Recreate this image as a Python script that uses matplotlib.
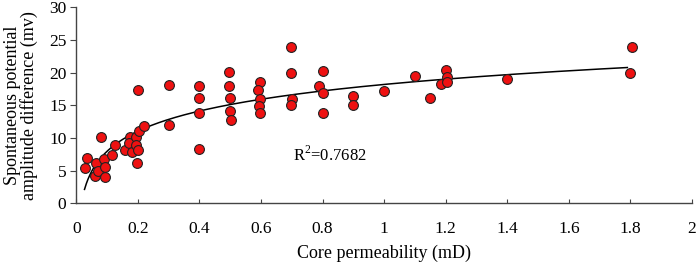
import numpy as np
import matplotlib
matplotlib.use("Agg")
import matplotlib.pyplot as plt

plt.rcParams['font.family'] = ['Liberation Serif', 'DejaVu Serif']
plt.rcParams['mathtext.fontset'] = 'custom'
plt.rcParams['mathtext.rm'] = 'Liberation Serif'

# measured points (core permeability mD, SP amplitude difference mv)
perm = [0.03, 0.035, 0.06, 0.065, 0.07, 0.08, 0.09, 0.095, 0.095, 0.115,
        0.125, 0.16, 0.175, 0.17, 0.18, 0.195, 0.195, 0.2, 0.197, 0.2,
        0.205, 0.22, 0.3, 0.3, 0.4, 0.4, 0.4, 0.4, 0.497, 0.497,
        0.5, 0.5, 0.503, 0.597, 0.59, 0.597, 0.595, 0.597, 0.697, 0.697,
        0.7, 0.697, 0.8, 0.79, 0.8, 0.8, 0.9, 0.9, 1.0, 1.1,
        1.15, 1.185, 1.2, 1.205, 1.205, 1.4, 1.805, 1.8]
sp = [5.45, 7.0, 4.2, 6.1, 5.0, 10.2, 6.8, 5.5, 4.1, 7.4,
      9.0, 8.2, 10.1, 9.2, 7.9, 10.1, 9.0, 8.2, 6.1, 17.3,
      11.0, 11.9, 18.1, 12.0, 18.0, 16.1, 13.9, 8.3, 20.1, 18.0,
      16.1, 14.2, 12.75, 18.5, 17.35, 16.0, 14.9, 13.8, 23.9, 19.95,
      16.0, 15.0, 20.2, 18.0, 16.95, 13.9, 16.5, 15.1, 17.15, 19.5,
      16.2, 18.2, 20.35, 19.3, 18.5, 19.0, 24.0, 20.0]

# log fit: y = a*ln(x) + b
fit_a = 4.45
fit_b = 18.2
fit_x0, fit_x1 = 0.027, 1.79
r2_label = "R$^{\\mathregular{2}}$=0.7682"

fig = plt.figure(figsize=(6.99, 2.64), dpi=100)
ax_box = [0.109, 0.230, 0.881, 0.742]
ax = fig.add_axes(ax_box)

xs = np.linspace(fit_x0, fit_x1, 300)
ax.plot(xs, fit_a * np.log(xs) + fit_b, color='black', lw=1.1, zorder=2)
ax.scatter(perm, sp, s=50, facecolor='#ee1111', edgecolor='#222222',
           linewidth=0.8, zorder=3)

ax.text(0.703, 7.4, r2_label, fontsize=12, va='center', ha='left')

ax.set_xlim(0, 2)
ax.set_ylim(0, 30)
ax.set_xticks(np.arange(0, 2.01, 0.2))
ax.set_xticklabels(['0', '0.2', '0.4', '0.6', '0.8', '1', '1.2', '1.4', '1.6', '1.8', '2'])
ax.set_yticks(range(0, 31, 5))

for s in ['top', 'right']:
    ax.spines[s].set_visible(False)
for s in ['left', 'bottom']:
    ax.spines[s].set_color('#444444')
    ax.spines[s].set_linewidth(1.0)

ax.tick_params(axis='x', direction='in', length=3, labelsize=12.5, pad=13, color='#444444')
ax.tick_params(axis='y', direction='out', length=4, labelsize=12.5, pad=3, color='#444444')

ax.set_xlabel('Core permeability (mD)', fontsize=13, labelpad=5)
fig.text(21 / 699, ax_box[1] + ax_box[3] / 2,
         'Spontaneous potential\namplitude difference (mv)', fontsize=13,
         rotation=90, ha='center', va='center', linespacing=0.92)

fig.savefig('out.png', dpi=100)
